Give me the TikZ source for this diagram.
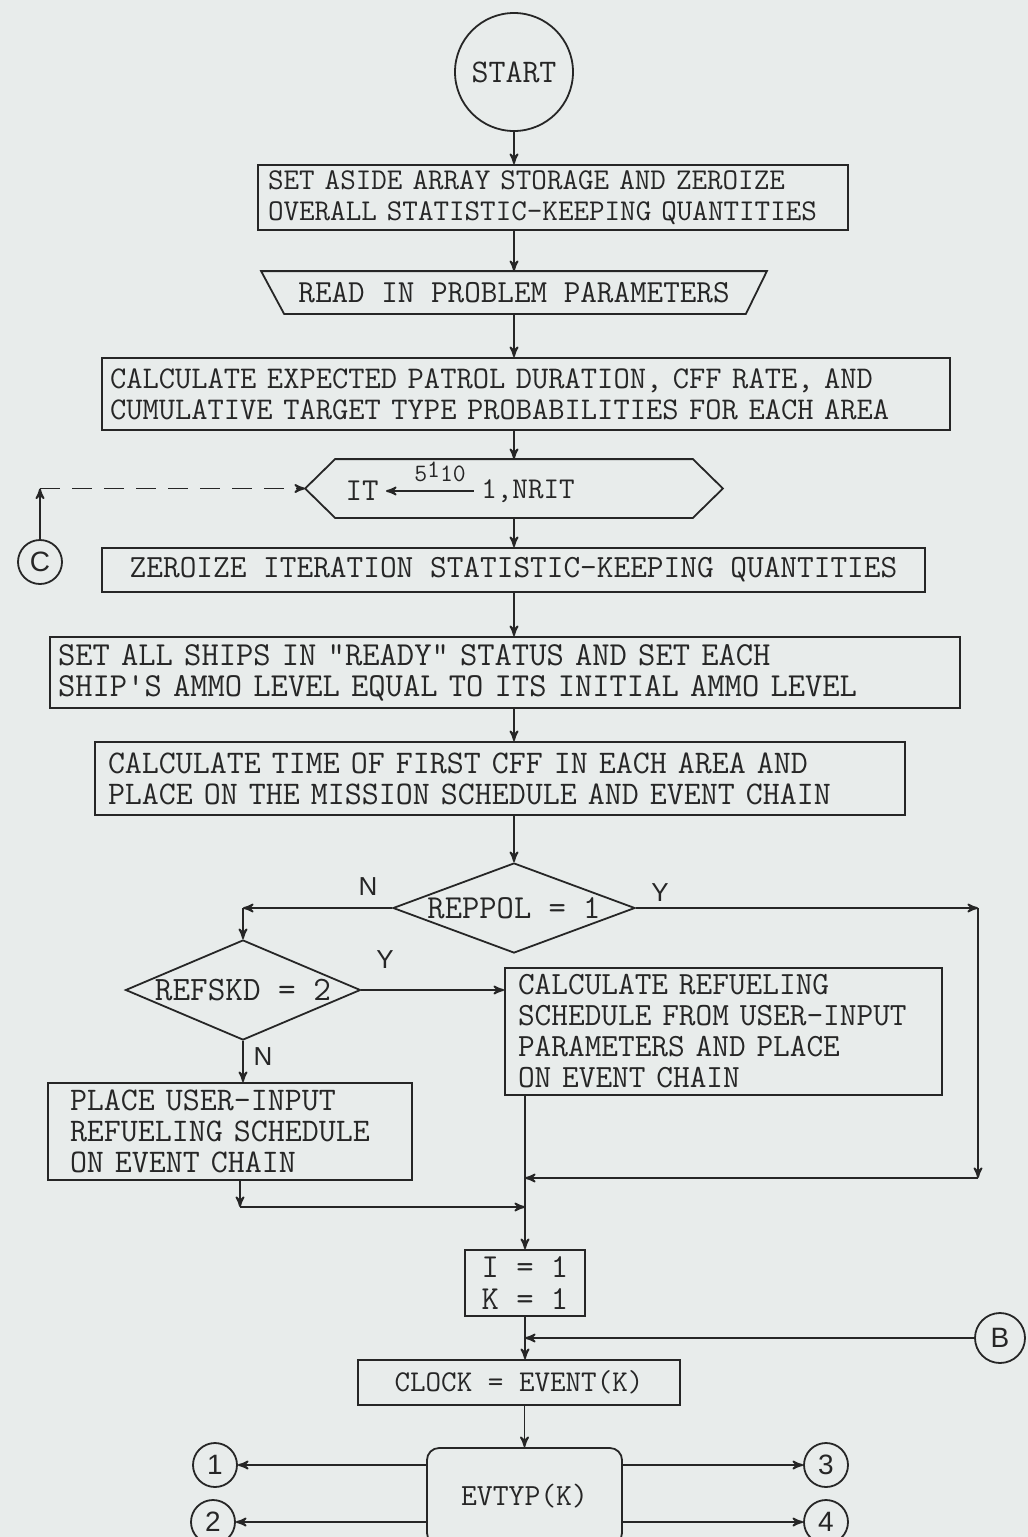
\documentclass[tikz,border=0pt]{standalone}
\usepackage{fontspec}
\newcommand{\tyfont}{\ttfamily}
\newfontfamily\handfont{Liberation Sans}
\usetikzlibrary{arrows}
\usetikzlibrary{shapes.geometric}
\definecolor{paper}{RGB}{232,236,235}
\definecolor{ink}{RGB}{38,38,38}
\newcommand{\tsize}[1]{\fontsize{#1}{15.5}\selectfont}

\begin{document}
\begin{tikzpicture}[x=0.5pt,y=-0.5pt,>=stealth',line width=0.9pt,color=ink,
  box/.style={draw,rectangle,inner ysep=2pt,align=left},
  dec/.style={draw,diamond,aspect=2.6,inner sep=0pt},
  conn/.style={draw,circle,minimum size=22pt,inner sep=0pt,font=\handfont\fontsize{14}{14}\selectfont},
  yn/.style={font=\handfont\fontsize{13}{13}\selectfont}]
\useasboundingbox (0,0) rectangle (1028,1537);
\fill[paper] (0,0) rectangle (1028,1537);

\node[draw,circle,minimum size=59pt,font=\tyfont\tsize{16.5}] (start) at (514,72) {START};
\node[box,text width=285pt,inner xsep=5pt,minimum height=32.5pt,font=\tyfont\tsize{15.1}] (aside) at (553,197.5) {SET ASIDE ARRAY STORAGE AND ZEROIZE\\OVERALL STATISTIC-KEEPING QUANTITIES};
\node[minimum width=252pt,minimum height=20.5pt,font=\tyfont\tsize{16.1}] (read) at (514,292.5) {READ IN PROBLEM PARAMETERS};
\draw (read.north west) -- (read.north east) -- ([xshift=-10.5pt]read.south east) -- ([xshift=11.5pt]read.south west) -- cycle;
\node[box,text width=416pt,inner xsep=4pt,minimum height=36pt,font=\tyfont\tsize{15.8}] (expect) at (526,394) {CALCULATE EXPECTED PATROL DURATION, CFF RATE, AND\\CUMULATIVE TARGET TYPE PROBABILITIES FOR EACH AREA};

\node[minimum width=208pt,minimum height=28.5pt] (loop) at (514,488.5) {};
\draw (loop.west) -- ([xshift=15pt]loop.north west) -- ([xshift=-15pt]loop.north east) -- (loop.east) -- ([xshift=-15pt]loop.south east) -- ([xshift=15pt]loop.south west) -- cycle;
\node[font=\tyfont\tsize{16}] (it) at (362,491) {IT};
\node[font=\tyfont\tsize{15.1}] (nrit) at (528,491) {1,NRIT};
\node[font=\tyfont\tsize{12.5}] (lbl) at (440,472) {5\raisebox{2pt}{1}10};
\node[conn] (cc) at (40,562) {C};

\node[box,align=center,minimum width=411.5pt,minimum height=22pt,font=\tyfont\tsize{16.2}] (zero) at (513.5,570) {ZEROIZE ITERATION STATISTIC-KEEPING QUANTITIES};
\node[box,text width=447pt,inner xsep=4pt,minimum height=35.5pt,font=\tyfont\tsize{16.8}] (ready) at (505,672.5) {SET ALL SHIPS IN "READY" STATUS AND SET EACH\\SHIP'S AMMO LEVEL EQUAL TO ITS INITIAL AMMO LEVEL};
\node[box,text width=392pt,inner xsep=6.5pt,minimum height=36.5pt,font=\tyfont\tsize{16.5}] (first) at (500,778.5) {CALCULATE TIME OF FIRST CFF IN EACH AREA AND\\PLACE ON THE MISSION SCHEDULE AND EVENT CHAIN};

\node[dec,minimum width=121pt,minimum height=45pt,font=\tyfont\tsize{16.8}] (reppol) at (514,908) {REPPOL = 1};
\node[dec,minimum width=117.5pt,minimum height=50pt,font=\tyfont\tsize{17.1}] (refskd) at (243,990) {REFSKD = 2};
\node[box,text width=205.5pt,inner xsep=6.5pt,minimum height=63.5pt,font=\tyfont\tsize{16.2}] (calcref) at (723.5,1031.5) {CALCULATE REFUELING\\SCHEDULE FROM USER-INPUT\\PARAMETERS AND PLACE\\ON EVENT CHAIN};
\node[box,text width=160pt,inner xsep=11pt,minimum height=48.5pt,font=\tyfont\tsize{16.5}] (userin) at (230,1131.5) {PLACE USER-INPUT\\REFUELING SCHEDULE\\ON EVENT CHAIN};
\node[yn] (n1) at (368,887) {N};
\node[yn] (y1) at (660,893) {Y};
\node[yn] (y2) at (385,960) {Y};
\node[yn] (n2) at (263,1057) {N};

\node[box,align=center,minimum width=60pt,minimum height=33pt,font=\tyfont\fontsize{16.8}{16}\selectfont] (ik) at (525,1283) {I = 1\\K = 1};
\node[conn,minimum size=25pt] (bb) at (1000,1338) {B};
\node[box,align=center,minimum width=161pt,minimum height=22.5pt,font=\tyfont\tsize{15.1}] (clock) at (519,1382.5) {CLOCK = EVENT(K)};
\node[draw,rounded corners=6pt,minimum width=97.5pt,minimum height=48.5pt,font=\tyfont\tsize{15.4}] (evtyp) at (524.5,1496.5) {EVTYP(K)};
\node[conn] (e1) at (215,1465) {1};
\node[conn] (e2) at (213,1522) {2};
\node[conn] (e3) at (826,1465) {3};
\node[conn] (e4) at (826,1522) {4};

\coordinate (yr) at (978,908);
\coordinate (yb) at (978,1178);
\coordinate (uj) at (240,1207);

\path
(start) edge[->] (start |- aside.north)
(start |- aside.south) edge[->] (read.north)
(read.south) edge[->] (read |- expect.north)
(read |- expect.south) edge[->] (loop.north)
(nrit.west) edge[->] (it.east)
(loop.south) edge[->] (loop |- zero.north)
(loop |- zero.south) edge[->] (loop |- ready.north)
(loop |- ready.south) edge[->] (loop |- first.north)
(loop |- first.south) edge[->] (reppol.north)
(reppol.west) edge[->] (reppol.west -| refskd)
(reppol.west -| refskd) edge[->] (refskd.north)
(reppol.east) edge[->] (yr)
(yr) edge[->] (yb)
(yb) edge[->] (yb -| ik)
(refskd.east) edge[->] (refskd -| calcref.west)
(refskd.south) edge[->] (refskd |- userin.north)
(userin.south -| uj) edge[->] (uj)
(uj) edge[->] (uj -| ik)
(calcref.south -| ik) edge[->] (ik.north)
(ik.south) edge[->] (ik |- clock.north)
(bb.west) edge[->] (bb -| ik)
(evtyp |- clock.south) edge[->] (evtyp.north)
(evtyp.west |- e1) edge[->] (e1.east)
(evtyp.west |- e2) edge[->] (e2.east)
(evtyp.east |- e3) edge[->] (e3.west)
(evtyp.east |- e4) edge[->] (e4.west);

\draw[->] (cc.north) -- (cc.north |- loop.west);
\draw[->,dash pattern=on 10pt off 6pt] (cc.north |- loop.west) -- (loop.west);
\end{tikzpicture}
\end{document}
